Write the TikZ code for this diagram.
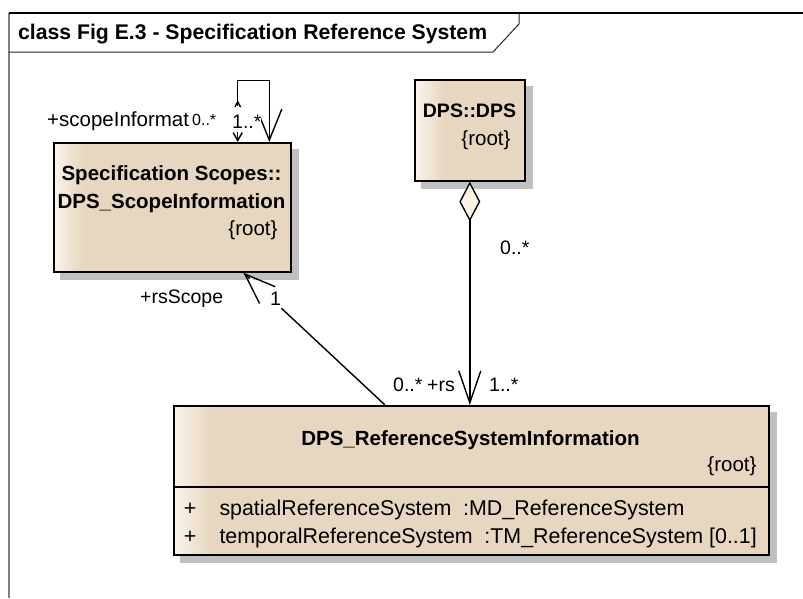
\documentclass[tikz,border=0pt]{standalone}
\usepackage{fontspec}
\setmainfont{Liberation Sans}
\usetikzlibrary{arrows.meta,calc,backgrounds}
\definecolor{classtan}{RGB}{232,215,192}
\definecolor{classlight}{RGB}{250,244,236}
\definecolor{shadowgray}{RGB}{192,192,192}
\definecolor{framegray}{RGB}{128,128,128}
\definecolor{diamondfill}{RGB}{252,242,228}

% light left edge fading into the class colour (box spans 25bp..75bp)
\pgfdeclarehorizontalshading{scopegrad}{100bp}{color(0bp)=(classlight); color(25bp)=(classlight); color(31bp)=(classtan); color(100bp)=(classtan)}
\pgfdeclarehorizontalshading{dpsgrad}{100bp}{color(0bp)=(classlight); color(25bp)=(classlight); color(38bp)=(classtan); color(100bp)=(classtan)}
\pgfdeclarehorizontalshading{rsgrad}{100bp}{color(0bp)=(classlight); color(25bp)=(classlight); color(28bp)=(classtan); color(100bp)=(classtan)}

\begin{document}
\begin{tikzpicture}[x=1pt,y=-1pt,
  classbox/.style={draw=black, line width=1.6pt, inner sep=0pt, shade, shading=#1},
  boldtext/.style={inner sep=0pt, font=\fontsize{20.5}{24}\selectfont\bfseries},
  plaintext/.style={inner sep=0pt, font=\fontsize{20.5}{24}\selectfont},
  attrtext/.style={inner sep=0pt, font=\fontsize{21.4}{25}\selectfont},
  lbl/.style={inner sep=0pt, font=\fontsize{19.5}{23}\selectfont},
  conn/.style={draw=black, line width=1.4pt},
  barb/.style={-{Straight Barb[length=31pt,width=23pt]}}
]
\useasboundingbox (0,0) rectangle (803,598);

% diagram frame and title tab
\draw[framegray, line width=2pt] (9,13) -- (9,598);
\draw[black, line width=1.5pt] (9,13) -- (803,13);
\draw[black!85, line width=1pt] (9,52) -- (493,52) -- (519,24) -- (519,13);
\node[inner sep=0pt, font=\fontsize{21.2}{25}\selectfont\bfseries, anchor=base west] (title) at (18,39)
  {class Fig E.3 - Specification Reference System};

% classes
\node[classbox=scopegrad, minimum width=237pt, minimum height=129pt, anchor=north west] (scope) at (53,142) {};
\node[classbox=dpsgrad, minimum width=110pt, minimum height=101pt, anchor=north west] (dps) at (414,79) {};
\node[classbox=rsgrad, minimum width=595pt, minimum height=149pt, anchor=north west] (rs) at (173,405) {};

\begin{scope}[on background layer]
  \fill[white] (0,0) rectangle (803,598);
  \fill[shadowgray] ($(scope.north west)+(7,7)$) rectangle ($(scope.south east)+(7,7)$);
  \fill[shadowgray] ($(dps.north west)+(7,7)$) rectangle ($(dps.south east)+(7,7)$);
  \fill[shadowgray] ($(rs.north west)+(7,7)$) rectangle ($(rs.south east)+(7,7)$);
\end{scope}

% class texts
\node[boldtext, anchor=base] (scopepkg) at (171.5,180) {Specification Scopes::};
\node[boldtext, anchor=base] (scopename) at (171.5,208) {DPS\_ScopeInformation};
\node[plaintext, anchor=base east] (scoperoot) at (277.7,235) {\{root\}};

\node[boldtext, font=\fontsize{19.5}{23}\selectfont\bfseries, anchor=base] (dpsname) at (469.5,117) {DPS::DPS};
\node[plaintext, anchor=base east] (dpsroot) at (510.7,145.7) {\{root\}};

\node[boldtext, anchor=base] (rsname) at (470.5,445) {DPS\_ReferenceSystemInformation};
\node[plaintext, anchor=base east] (rsroot) at (756.7,471.7) {\{root\}};
\draw[black, line width=1.6pt] ($(rs.north west)+(0,82)$) -- ($(rs.north east)+(0,82)$);
\node[attrtext, anchor=base] (vis1) at (190,515) {+};
\node[attrtext, anchor=base] (vis2) at (190,543.3) {+};
\node[attrtext, anchor=base west] (att1) at (219.3,515) {spatialReferenceSystem};
\node[attrtext, anchor=base west] (typ1) at (463,515) {:MD\_ReferenceSystem};
\node[attrtext, anchor=base west] (att2) at (219.3,543.3) {temporalReferenceSystem};
\node[attrtext, anchor=base east] (typ2) at (757,543.3) {:TM\_ReferenceSystem [0..1]};

% aggregation DPS -> reference system information
\draw[conn, {Diamond[fill=diamondfill,length=40pt,width=21pt]}-{Straight Barb[length=32pt,width=22pt]}]
  (dps.south) -- (dps.south |- rs.north);
\node[lbl, anchor=base west] (aggmult) at (500,254) {0..*};
\node[lbl, anchor=base west] (rsmult) at (393,391.7) {0..*};
\node[lbl, anchor=base east] (rsrole) at (455,391.7) {+rs};
\node[lbl, anchor=base west] (rsmult2) at (489,391.7) {1..*};

% association reference system information -> scope
\coordinate (rsA) at ($(rs.north west)+(212,0)$);
\coordinate (scB) at ($(scope.south west)+(190.3,0)$);
\draw[conn, barb] (rsA) -- (scB);
\draw[white, line width=3pt] ($(scB)!9pt!(rsA)$) -- ($(scB)!52pt!(rsA)$);
\node[lbl, anchor=base west] (scoperole) at (140,303) {+rsScope};
\node[lbl, anchor=base west] (scopemult) at (270,305) {1};

% self association on the scope class
\coordinate (loopL) at ($(scope.north west)+(184.7,0)$);
\coordinate (loopR) at ($(scope.north west)+(216.3,0)$);
\draw[conn, {Straight Barb[length=8pt,width=9pt]}-{Straight Barb[length=31pt,width=25pt]}]
  (loopL) -- ++(0,-61.3) -| (loopR);
\node[plaintext, anchor=base west] (looprole) at (47,126.7) {+scopeInformat};
\node[lbl, font=\fontsize{16}{19}\selectfont, anchor=base west, fill=white] (loopmult1) at (192,125) {0..*};
\node[lbl, anchor=base west, fill=white, text height=22pt, text depth=4pt] (loopmult2) at (232,128) {1..*};
\draw[conn] (234.9,107) -- (237.7,101.7) -- (240.5,107);
\end{tikzpicture}
\end{document}
